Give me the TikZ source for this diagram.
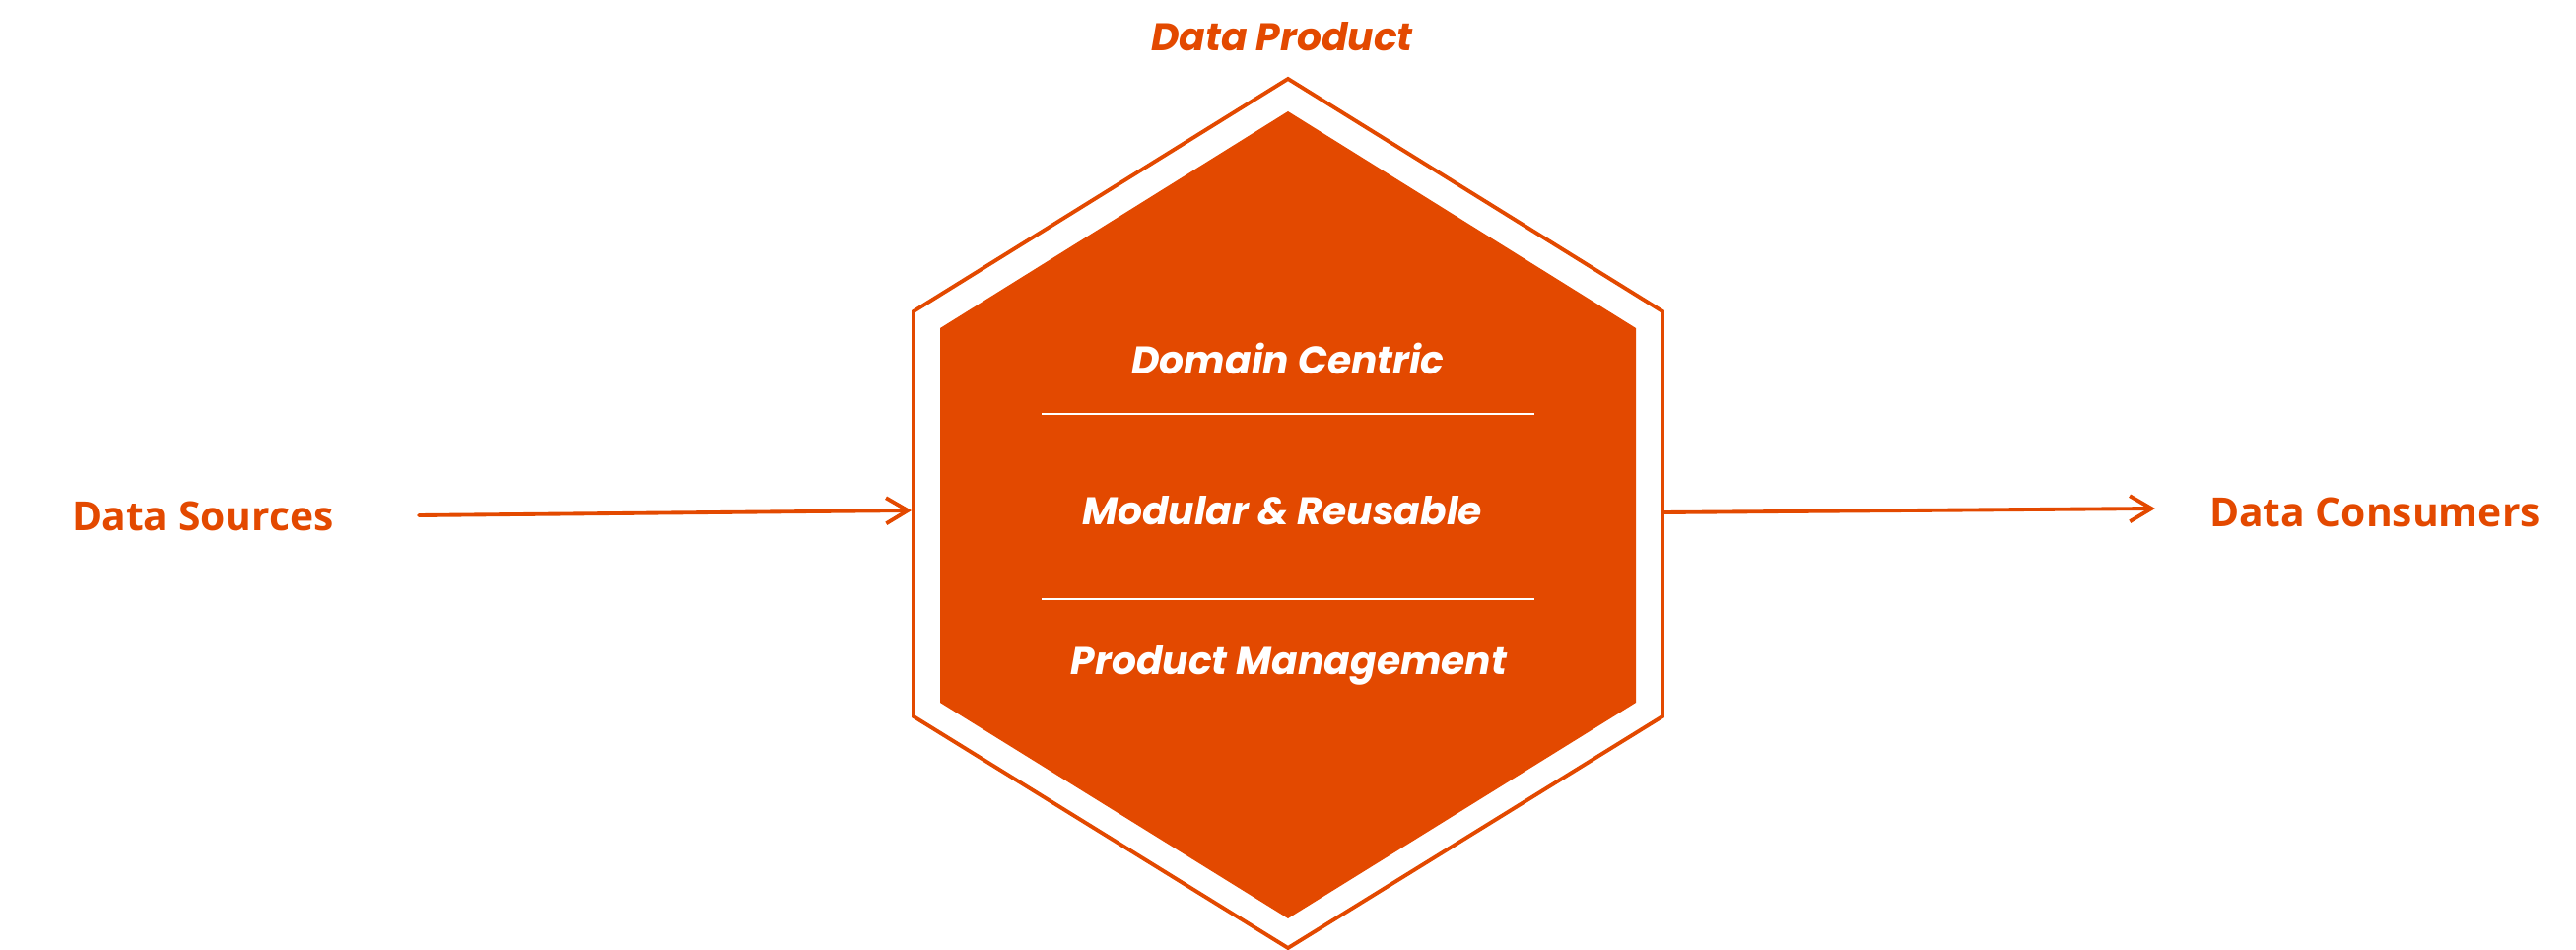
\documentclass[tikz,border=0pt]{standalone}
\usepackage{fontspec}
\setmainfont{Open Sans}
\newfontfamily\popfont{Poppins}
\usetikzlibrary{arrows.meta}
\definecolor{prodorange}{RGB}{227,73,0}

\begin{document}
\begin{tikzpicture}[x=0.01cm, y=-0.01cm,
    side/.style={font=\bfseries\fontsize{11.6}{14}\selectfont, text=prodorange, anchor=base, inner sep=0pt},
    trait/.style={font=\popfont\bfseries\itshape\fontsize{11.15}{14}\selectfont, text=white, anchor=base, inner sep=0pt},
    flow/.style={-{Straight Barb[length=0.22cm, width=0.26cm]}, prodorange, line width=1.1pt, line cap=round}]
  \useasboundingbox (0,0) rectangle (2614,964);

  % hexagon corners
  \coordinate (ot) at (1307,80);  \coordinate (ob) at (1307,962);
  \coordinate (ol1) at (927,316); \coordinate (ol2) at (927,727);
  \coordinate (or1) at (1687,316); \coordinate (or2) at (1687,727);
  \coordinate (it) at (1307,113); \coordinate (ib) at (1307,932);
  \coordinate (il1) at (954,333); \coordinate (il2) at (954,713);
  \coordinate (ir1) at (1660,333); \coordinate (ir2) at (1660,713);

  \draw[prodorange, line width=1.1pt] (ot)--(or1)--(or2)--(ob)--(ol2)--(ol1)--cycle;
  \fill[prodorange] (it)--(ir1)--(ir2)--(ib)--(il2)--(il1)--cycle;

  \node[trait, text=prodorange] (prod) at (1301,52) {Data Product};
  \node[trait] (dom) at (1307,380) {Domain Centric};
  \node[trait] (mod) at (1301,533) {Modular \& Reusable};
  \node[trait] (mgmt) at (1308,685) {Product Management};

  % separators
  \coordinate (s1l) at (1057,420); \coordinate (s1r) at (1557,420);
  \coordinate (s2l) at (1057,608); \coordinate (s2r) at (1557,608);
  \draw[white, line width=0.6pt] (s1l)--(s1r);
  \draw[white, line width=0.6pt] (s2l)--(s2r);

  \node[side] (src) at (206,539) {Data Sources};
  \node[side] (cons) at (2410,535) {Data Consumers};

  % flow arrows
  \coordinate (srcout) at (425,523); \coordinate (hexin) at (925,518);
  \coordinate (hexout) at (1688,520); \coordinate (consin) at (2187,516);
  \draw[flow] (srcout)--(hexin);
  \draw[flow] (hexout)--(consin);
\end{tikzpicture}
\end{document}
